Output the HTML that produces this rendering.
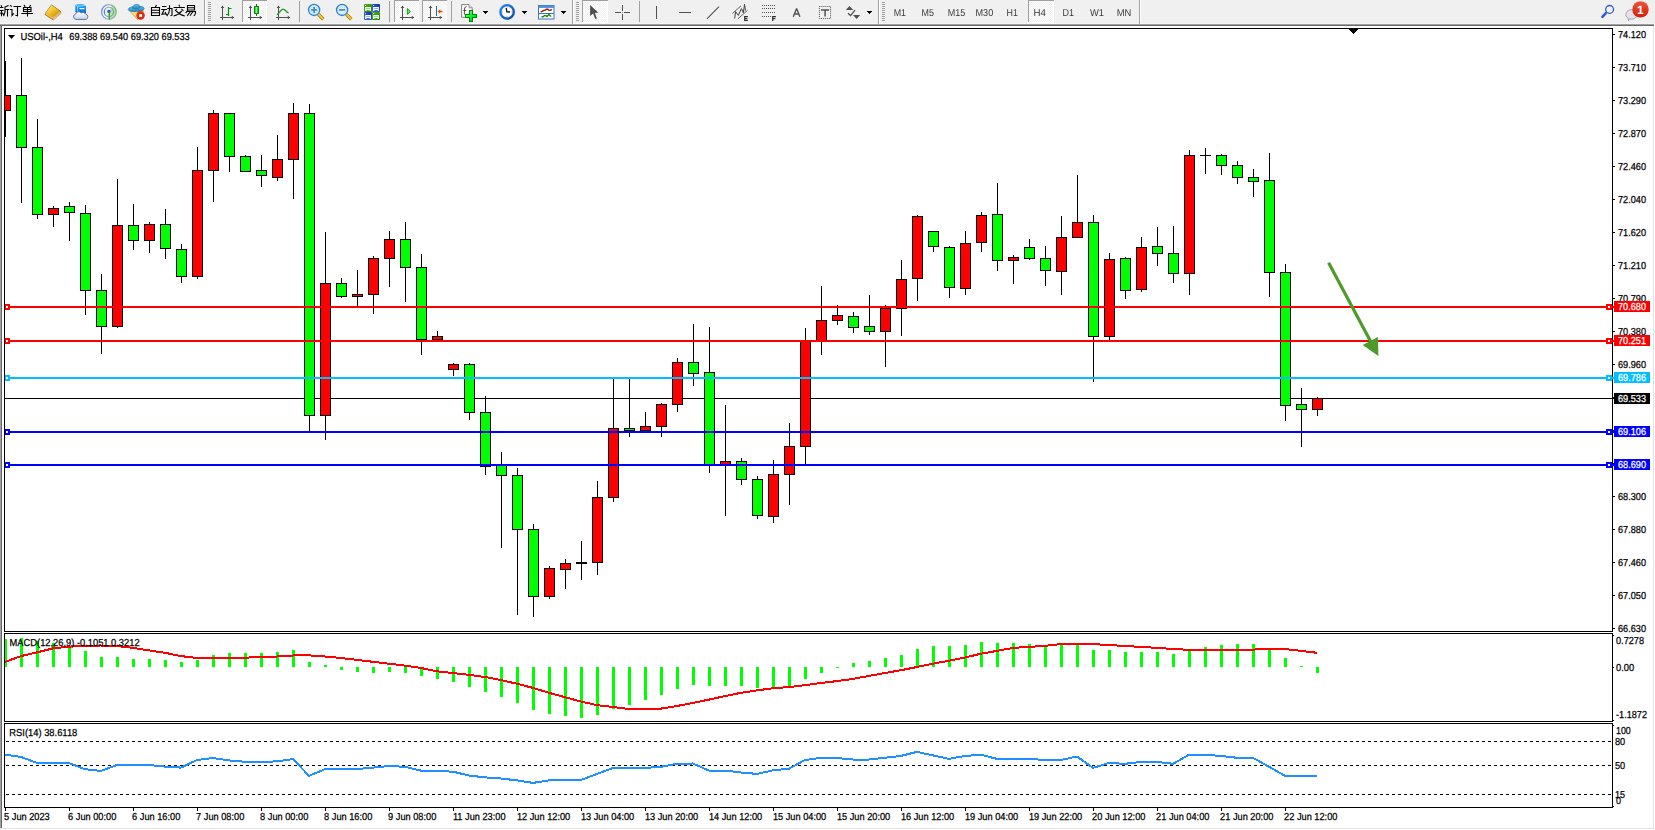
<!DOCTYPE html>
<html><head><meta charset="utf-8"><title>USOil H4</title>
<style>html,body{margin:0;padding:0;background:#fff;overflow:hidden}body{width:1655px;height:830px;font-family:"Liberation Sans",sans-serif}svg text{font-family:"Liberation Sans",sans-serif}</style>
</head><body>
<svg width="1655" height="830" viewBox="0 0 1655 830" font-family="Liberation Sans, sans-serif" text-rendering="geometricPrecision" style="display:block"><rect x="0" y="0" width="1655" height="830" fill="#fff"/>
<rect x="0" y="0" width="1655" height="24" fill="#f0f0f0"/>
<rect x="0" y="23" width="1654" height="1" fill="#f6f6f6"/>
<rect x="0" y="24" width="1654" height="1" fill="#a0a0a0"/>
<rect x="0" y="25" width="1654" height="1" fill="#696969"/>
<rect x="1653" y="26" width="1" height="803" fill="#e3e3e3"/>
<rect x="0" y="828" width="1654" height="1" fill="#e3e3e3"/>
<rect x="0" y="26" width="1" height="802" fill="#a0a0a0"/>
<rect x="1" y="26" width="1" height="802" fill="#696969"/>
<rect x="4" y="28" width="1" height="604" fill="#000"/>
<rect x="4" y="633" width="1" height="89" fill="#000"/>
<rect x="4" y="723" width="1" height="85" fill="#000"/>
<rect x="1612" y="28" width="1" height="604" fill="#000"/>
<rect x="1612" y="633" width="1" height="89" fill="#000"/>
<rect x="1612" y="723" width="1" height="85" fill="#000"/>
<rect x="4" y="28" width="1609" height="1" fill="#000"/>
<rect x="4" y="631" width="1609" height="1" fill="#000"/>
<rect x="4" y="633" width="1609" height="1" fill="#000"/>
<rect x="4" y="721" width="1609" height="1" fill="#000"/>
<rect x="4" y="723" width="1609" height="1" fill="#000"/>
<rect x="4" y="807" width="1609" height="1" fill="#000"/>
<rect x="5" y="398" width="1609" height="1" fill="#000"/>
<g shape-rendering="crispEdges">
<rect x="5" y="61" width="1" height="76" fill="#000"/>
<rect x="0" y="95" width="11" height="16" fill="#000"/>
<rect x="1" y="96" width="9" height="14" fill="#ff0000"/>
<rect x="21" y="58" width="1" height="145" fill="#000"/>
<rect x="16" y="95" width="11" height="53" fill="#000"/>
<rect x="17" y="96" width="9" height="51" fill="#00ff00"/>
<rect x="37" y="119" width="1" height="100" fill="#000"/>
<rect x="32" y="147" width="11" height="68" fill="#000"/>
<rect x="33" y="148" width="9" height="66" fill="#00ff00"/>
<rect x="53" y="206" width="1" height="21" fill="#000"/>
<rect x="48" y="208" width="11" height="7" fill="#000"/>
<rect x="49" y="209" width="9" height="5" fill="#ff0000"/>
<rect x="69" y="202" width="1" height="39" fill="#000"/>
<rect x="64" y="206" width="11" height="7" fill="#000"/>
<rect x="65" y="207" width="9" height="5" fill="#00ff00"/>
<rect x="85" y="205" width="1" height="110" fill="#000"/>
<rect x="80" y="213" width="11" height="78" fill="#000"/>
<rect x="81" y="214" width="9" height="76" fill="#00ff00"/>
<rect x="101" y="274" width="1" height="80" fill="#000"/>
<rect x="96" y="290" width="11" height="37" fill="#000"/>
<rect x="97" y="291" width="9" height="35" fill="#00ff00"/>
<rect x="117" y="179" width="1" height="149" fill="#000"/>
<rect x="112" y="225" width="11" height="102" fill="#000"/>
<rect x="113" y="226" width="9" height="100" fill="#ff0000"/>
<rect x="133" y="204" width="1" height="46" fill="#000"/>
<rect x="128" y="225" width="11" height="16" fill="#000"/>
<rect x="129" y="226" width="9" height="14" fill="#00ff00"/>
<rect x="149" y="222" width="1" height="31" fill="#000"/>
<rect x="144" y="224" width="11" height="17" fill="#000"/>
<rect x="145" y="225" width="9" height="15" fill="#ff0000"/>
<rect x="165" y="209" width="1" height="50" fill="#000"/>
<rect x="160" y="224" width="11" height="25" fill="#000"/>
<rect x="161" y="225" width="9" height="23" fill="#00ff00"/>
<rect x="181" y="244" width="1" height="39" fill="#000"/>
<rect x="176" y="249" width="11" height="28" fill="#000"/>
<rect x="177" y="250" width="9" height="26" fill="#00ff00"/>
<rect x="197" y="147" width="1" height="132" fill="#000"/>
<rect x="192" y="170" width="11" height="107" fill="#000"/>
<rect x="193" y="171" width="9" height="105" fill="#ff0000"/>
<rect x="213" y="110" width="1" height="92" fill="#000"/>
<rect x="208" y="113" width="11" height="58" fill="#000"/>
<rect x="209" y="114" width="9" height="56" fill="#ff0000"/>
<rect x="229" y="113" width="1" height="59" fill="#000"/>
<rect x="224" y="113" width="11" height="44" fill="#000"/>
<rect x="225" y="114" width="9" height="42" fill="#00ff00"/>
<rect x="245" y="155" width="1" height="17" fill="#000"/>
<rect x="240" y="156" width="11" height="16" fill="#000"/>
<rect x="241" y="157" width="9" height="14" fill="#00ff00"/>
<rect x="261" y="155" width="1" height="32" fill="#000"/>
<rect x="256" y="170" width="11" height="6" fill="#000"/>
<rect x="257" y="171" width="9" height="4" fill="#00ff00"/>
<rect x="277" y="135" width="1" height="46" fill="#000"/>
<rect x="272" y="159" width="11" height="19" fill="#000"/>
<rect x="273" y="160" width="9" height="17" fill="#ff0000"/>
<rect x="293" y="103" width="1" height="96" fill="#000"/>
<rect x="288" y="113" width="11" height="47" fill="#000"/>
<rect x="289" y="114" width="9" height="45" fill="#ff0000"/>
<rect x="309" y="104" width="1" height="327" fill="#000"/>
<rect x="304" y="113" width="11" height="303" fill="#000"/>
<rect x="305" y="114" width="9" height="301" fill="#00ff00"/>
<rect x="325" y="232" width="1" height="208" fill="#000"/>
<rect x="320" y="283" width="11" height="133" fill="#000"/>
<rect x="321" y="284" width="9" height="131" fill="#ff0000"/>
<rect x="341" y="278" width="1" height="20" fill="#000"/>
<rect x="336" y="283" width="11" height="14" fill="#000"/>
<rect x="337" y="284" width="9" height="12" fill="#00ff00"/>
<rect x="357" y="270" width="1" height="36" fill="#000"/>
<rect x="352" y="294" width="11" height="3" fill="#000"/>
<rect x="353" y="295" width="9" height="1" fill="#ff0000"/>
<rect x="373" y="256" width="1" height="58" fill="#000"/>
<rect x="368" y="258" width="11" height="37" fill="#000"/>
<rect x="369" y="259" width="9" height="35" fill="#ff0000"/>
<rect x="389" y="231" width="1" height="56" fill="#000"/>
<rect x="384" y="239" width="11" height="20" fill="#000"/>
<rect x="385" y="240" width="9" height="18" fill="#ff0000"/>
<rect x="405" y="222" width="1" height="80" fill="#000"/>
<rect x="400" y="239" width="11" height="29" fill="#000"/>
<rect x="401" y="240" width="9" height="27" fill="#00ff00"/>
<rect x="421" y="254" width="1" height="101" fill="#000"/>
<rect x="416" y="267" width="11" height="73" fill="#000"/>
<rect x="417" y="268" width="9" height="71" fill="#00ff00"/>
<rect x="437" y="331" width="1" height="9" fill="#000"/>
<rect x="432" y="336" width="11" height="4" fill="#000"/>
<rect x="433" y="337" width="9" height="2" fill="#ff0000"/>
<rect x="453" y="363" width="1" height="13" fill="#000"/>
<rect x="448" y="364" width="11" height="6" fill="#000"/>
<rect x="449" y="365" width="9" height="4" fill="#ff0000"/>
<rect x="469" y="363" width="1" height="57" fill="#000"/>
<rect x="464" y="364" width="11" height="49" fill="#000"/>
<rect x="465" y="365" width="9" height="47" fill="#00ff00"/>
<rect x="485" y="396" width="1" height="79" fill="#000"/>
<rect x="480" y="412" width="11" height="55" fill="#000"/>
<rect x="481" y="413" width="9" height="53" fill="#00ff00"/>
<rect x="501" y="452" width="1" height="96" fill="#000"/>
<rect x="496" y="465" width="11" height="11" fill="#000"/>
<rect x="497" y="466" width="9" height="9" fill="#00ff00"/>
<rect x="517" y="468" width="1" height="147" fill="#000"/>
<rect x="512" y="475" width="11" height="55" fill="#000"/>
<rect x="513" y="476" width="9" height="53" fill="#00ff00"/>
<rect x="533" y="524" width="1" height="93" fill="#000"/>
<rect x="528" y="529" width="11" height="68" fill="#000"/>
<rect x="529" y="530" width="9" height="66" fill="#00ff00"/>
<rect x="549" y="566" width="1" height="33" fill="#000"/>
<rect x="544" y="568" width="11" height="29" fill="#000"/>
<rect x="545" y="569" width="9" height="27" fill="#ff0000"/>
<rect x="565" y="559" width="1" height="30" fill="#000"/>
<rect x="560" y="563" width="11" height="7" fill="#000"/>
<rect x="561" y="564" width="9" height="5" fill="#ff0000"/>
<rect x="581" y="541" width="1" height="39" fill="#000"/>
<rect x="576" y="562" width="11" height="2" fill="#000"/>
<rect x="597" y="481" width="1" height="94" fill="#000"/>
<rect x="592" y="497" width="11" height="66" fill="#000"/>
<rect x="593" y="498" width="9" height="64" fill="#ff0000"/>
<rect x="613" y="379" width="1" height="123" fill="#000"/>
<rect x="608" y="428" width="11" height="70" fill="#000"/>
<rect x="609" y="429" width="9" height="68" fill="#ff0000"/>
<rect x="629" y="379" width="1" height="58" fill="#000"/>
<rect x="624" y="428" width="11" height="3" fill="#000"/>
<rect x="625" y="429" width="9" height="1" fill="#00ff00"/>
<rect x="645" y="412" width="1" height="19" fill="#000"/>
<rect x="640" y="426" width="11" height="5" fill="#000"/>
<rect x="641" y="427" width="9" height="3" fill="#ff0000"/>
<rect x="661" y="403" width="1" height="34" fill="#000"/>
<rect x="656" y="404" width="11" height="23" fill="#000"/>
<rect x="657" y="405" width="9" height="21" fill="#ff0000"/>
<rect x="677" y="358" width="1" height="54" fill="#000"/>
<rect x="672" y="362" width="11" height="43" fill="#000"/>
<rect x="673" y="363" width="9" height="41" fill="#ff0000"/>
<rect x="693" y="324" width="1" height="62" fill="#000"/>
<rect x="688" y="362" width="11" height="12" fill="#000"/>
<rect x="689" y="363" width="9" height="10" fill="#00ff00"/>
<rect x="709" y="327" width="1" height="146" fill="#000"/>
<rect x="704" y="372" width="11" height="93" fill="#000"/>
<rect x="705" y="373" width="9" height="91" fill="#00ff00"/>
<rect x="725" y="405" width="1" height="111" fill="#000"/>
<rect x="720" y="461" width="11" height="4" fill="#000"/>
<rect x="721" y="462" width="9" height="2" fill="#ff0000"/>
<rect x="741" y="458" width="1" height="27" fill="#000"/>
<rect x="736" y="461" width="11" height="19" fill="#000"/>
<rect x="737" y="462" width="9" height="17" fill="#00ff00"/>
<rect x="757" y="476" width="1" height="43" fill="#000"/>
<rect x="752" y="479" width="11" height="37" fill="#000"/>
<rect x="753" y="480" width="9" height="35" fill="#00ff00"/>
<rect x="773" y="460" width="1" height="63" fill="#000"/>
<rect x="768" y="474" width="11" height="43" fill="#000"/>
<rect x="769" y="475" width="9" height="41" fill="#ff0000"/>
<rect x="789" y="423" width="1" height="82" fill="#000"/>
<rect x="784" y="446" width="11" height="29" fill="#000"/>
<rect x="785" y="447" width="9" height="27" fill="#ff0000"/>
<rect x="805" y="328" width="1" height="137" fill="#000"/>
<rect x="800" y="340" width="11" height="107" fill="#000"/>
<rect x="801" y="341" width="9" height="105" fill="#ff0000"/>
<rect x="821" y="286" width="1" height="69" fill="#000"/>
<rect x="816" y="320" width="11" height="21" fill="#000"/>
<rect x="817" y="321" width="9" height="19" fill="#ff0000"/>
<rect x="837" y="305" width="1" height="20" fill="#000"/>
<rect x="832" y="315" width="11" height="6" fill="#000"/>
<rect x="833" y="316" width="9" height="4" fill="#ff0000"/>
<rect x="853" y="312" width="1" height="21" fill="#000"/>
<rect x="848" y="316" width="11" height="12" fill="#000"/>
<rect x="849" y="317" width="9" height="10" fill="#00ff00"/>
<rect x="869" y="295" width="1" height="40" fill="#000"/>
<rect x="864" y="326" width="11" height="6" fill="#000"/>
<rect x="865" y="327" width="9" height="4" fill="#00ff00"/>
<rect x="885" y="305" width="1" height="62" fill="#000"/>
<rect x="880" y="308" width="11" height="24" fill="#000"/>
<rect x="881" y="309" width="9" height="22" fill="#ff0000"/>
<rect x="901" y="260" width="1" height="76" fill="#000"/>
<rect x="896" y="279" width="11" height="30" fill="#000"/>
<rect x="897" y="280" width="9" height="28" fill="#ff0000"/>
<rect x="917" y="215" width="1" height="86" fill="#000"/>
<rect x="912" y="216" width="11" height="63" fill="#000"/>
<rect x="913" y="217" width="9" height="61" fill="#ff0000"/>
<rect x="933" y="231" width="1" height="21" fill="#000"/>
<rect x="928" y="231" width="11" height="16" fill="#000"/>
<rect x="929" y="232" width="9" height="14" fill="#00ff00"/>
<rect x="949" y="246" width="1" height="52" fill="#000"/>
<rect x="944" y="247" width="11" height="41" fill="#000"/>
<rect x="945" y="248" width="9" height="39" fill="#00ff00"/>
<rect x="965" y="231" width="1" height="64" fill="#000"/>
<rect x="960" y="243" width="11" height="46" fill="#000"/>
<rect x="961" y="244" width="9" height="44" fill="#ff0000"/>
<rect x="981" y="212" width="1" height="40" fill="#000"/>
<rect x="976" y="215" width="11" height="28" fill="#000"/>
<rect x="977" y="216" width="9" height="26" fill="#ff0000"/>
<rect x="997" y="183" width="1" height="88" fill="#000"/>
<rect x="992" y="214" width="11" height="47" fill="#000"/>
<rect x="993" y="215" width="9" height="45" fill="#00ff00"/>
<rect x="1013" y="255" width="1" height="29" fill="#000"/>
<rect x="1008" y="257" width="11" height="4" fill="#000"/>
<rect x="1009" y="258" width="9" height="2" fill="#ff0000"/>
<rect x="1029" y="239" width="1" height="21" fill="#000"/>
<rect x="1024" y="247" width="11" height="12" fill="#000"/>
<rect x="1025" y="248" width="9" height="10" fill="#00ff00"/>
<rect x="1045" y="246" width="1" height="40" fill="#000"/>
<rect x="1040" y="258" width="11" height="13" fill="#000"/>
<rect x="1041" y="259" width="9" height="11" fill="#00ff00"/>
<rect x="1061" y="216" width="1" height="79" fill="#000"/>
<rect x="1056" y="237" width="11" height="35" fill="#000"/>
<rect x="1057" y="238" width="9" height="33" fill="#ff0000"/>
<rect x="1077" y="175" width="1" height="63" fill="#000"/>
<rect x="1072" y="222" width="11" height="16" fill="#000"/>
<rect x="1073" y="223" width="9" height="14" fill="#ff0000"/>
<rect x="1093" y="215" width="1" height="167" fill="#000"/>
<rect x="1088" y="222" width="11" height="115" fill="#000"/>
<rect x="1089" y="223" width="9" height="113" fill="#00ff00"/>
<rect x="1109" y="253" width="1" height="87" fill="#000"/>
<rect x="1104" y="259" width="11" height="78" fill="#000"/>
<rect x="1105" y="260" width="9" height="76" fill="#ff0000"/>
<rect x="1125" y="257" width="1" height="42" fill="#000"/>
<rect x="1120" y="258" width="11" height="33" fill="#000"/>
<rect x="1121" y="259" width="9" height="31" fill="#00ff00"/>
<rect x="1141" y="237" width="1" height="55" fill="#000"/>
<rect x="1136" y="247" width="11" height="43" fill="#000"/>
<rect x="1137" y="248" width="9" height="41" fill="#ff0000"/>
<rect x="1157" y="227" width="1" height="39" fill="#000"/>
<rect x="1152" y="246" width="11" height="8" fill="#000"/>
<rect x="1153" y="247" width="9" height="6" fill="#00ff00"/>
<rect x="1173" y="226" width="1" height="57" fill="#000"/>
<rect x="1168" y="253" width="11" height="21" fill="#000"/>
<rect x="1169" y="254" width="9" height="19" fill="#00ff00"/>
<rect x="1189" y="150" width="1" height="145" fill="#000"/>
<rect x="1184" y="155" width="11" height="119" fill="#000"/>
<rect x="1185" y="156" width="9" height="117" fill="#ff0000"/>
<rect x="1205" y="148" width="1" height="26" fill="#000"/>
<rect x="1200" y="155" width="11" height="1" fill="#000"/>
<rect x="1221" y="154" width="1" height="21" fill="#000"/>
<rect x="1216" y="155" width="11" height="11" fill="#000"/>
<rect x="1217" y="156" width="9" height="9" fill="#00ff00"/>
<rect x="1237" y="161" width="1" height="23" fill="#000"/>
<rect x="1232" y="165" width="11" height="13" fill="#000"/>
<rect x="1233" y="166" width="9" height="11" fill="#00ff00"/>
<rect x="1253" y="169" width="1" height="28" fill="#000"/>
<rect x="1248" y="177" width="11" height="5" fill="#000"/>
<rect x="1249" y="178" width="9" height="3" fill="#00ff00"/>
<rect x="1269" y="153" width="1" height="144" fill="#000"/>
<rect x="1264" y="180" width="11" height="93" fill="#000"/>
<rect x="1265" y="181" width="9" height="91" fill="#00ff00"/>
<rect x="1285" y="264" width="1" height="157" fill="#000"/>
<rect x="1280" y="272" width="11" height="134" fill="#000"/>
<rect x="1281" y="273" width="9" height="132" fill="#00ff00"/>
<rect x="1301" y="388" width="1" height="59" fill="#000"/>
<rect x="1296" y="404" width="11" height="6" fill="#000"/>
<rect x="1297" y="405" width="9" height="4" fill="#00ff00"/>
<rect x="1317" y="397" width="1" height="19" fill="#000"/>
<rect x="1312" y="398" width="11" height="12" fill="#000"/>
<rect x="1313" y="399" width="9" height="10" fill="#ff0000"/>
</g>
<rect x="0" y="26" width="1" height="802" fill="#a0a0a0"/>
<rect x="1" y="26" width="1" height="802" fill="#696969"/>
<rect x="2" y="26" width="2" height="802" fill="#fff"/>
<rect x="4" y="28" width="1" height="604" fill="#000"/>
<rect x="4" y="633" width="1" height="89" fill="#000"/>
<rect x="4" y="723" width="1" height="85" fill="#000"/>
<rect x="1613" y="34" width="2" height="1" fill="#000"/>
<text x="1618" y="38" font-size="10.1" fill="#000" stroke="#000" stroke-width="0.25" textLength="28" lengthAdjust="spacingAndGlyphs">74.120</text>
<rect x="1613" y="67" width="2" height="1" fill="#000"/>
<text x="1618" y="71" font-size="10.1" fill="#000" stroke="#000" stroke-width="0.25" textLength="28" lengthAdjust="spacingAndGlyphs">73.710</text>
<rect x="1613" y="100" width="2" height="1" fill="#000"/>
<text x="1618" y="104" font-size="10.1" fill="#000" stroke="#000" stroke-width="0.25" textLength="28" lengthAdjust="spacingAndGlyphs">73.290</text>
<rect x="1613" y="133" width="2" height="1" fill="#000"/>
<text x="1618" y="137" font-size="10.1" fill="#000" stroke="#000" stroke-width="0.25" textLength="28" lengthAdjust="spacingAndGlyphs">72.870</text>
<rect x="1613" y="166" width="2" height="1" fill="#000"/>
<text x="1618" y="170" font-size="10.1" fill="#000" stroke="#000" stroke-width="0.25" textLength="28" lengthAdjust="spacingAndGlyphs">72.460</text>
<rect x="1613" y="199" width="2" height="1" fill="#000"/>
<text x="1618" y="203" font-size="10.1" fill="#000" stroke="#000" stroke-width="0.25" textLength="28" lengthAdjust="spacingAndGlyphs">72.040</text>
<rect x="1613" y="232" width="2" height="1" fill="#000"/>
<text x="1618" y="236" font-size="10.1" fill="#000" stroke="#000" stroke-width="0.25" textLength="28" lengthAdjust="spacingAndGlyphs">71.620</text>
<rect x="1613" y="265" width="2" height="1" fill="#000"/>
<text x="1618" y="269" font-size="10.1" fill="#000" stroke="#000" stroke-width="0.25" textLength="28" lengthAdjust="spacingAndGlyphs">71.210</text>
<rect x="1613" y="298" width="2" height="1" fill="#000"/>
<text x="1618" y="302" font-size="10.1" fill="#000" stroke="#000" stroke-width="0.25" textLength="28" lengthAdjust="spacingAndGlyphs">70.790</text>
<rect x="1613" y="331" width="2" height="1" fill="#000"/>
<text x="1618" y="335" font-size="10.1" fill="#000" stroke="#000" stroke-width="0.25" textLength="28" lengthAdjust="spacingAndGlyphs">70.380</text>
<rect x="1613" y="364" width="2" height="1" fill="#000"/>
<text x="1618" y="368" font-size="10.1" fill="#000" stroke="#000" stroke-width="0.25" textLength="28" lengthAdjust="spacingAndGlyphs">69.960</text>
<rect x="1613" y="397" width="2" height="1" fill="#000"/>
<text x="1618" y="401" font-size="10.1" fill="#000" stroke="#000" stroke-width="0.25" textLength="28" lengthAdjust="spacingAndGlyphs">69.540</text>
<rect x="1613" y="430" width="2" height="1" fill="#000"/>
<text x="1618" y="434" font-size="10.1" fill="#000" stroke="#000" stroke-width="0.25" textLength="28" lengthAdjust="spacingAndGlyphs">69.130</text>
<rect x="1613" y="463" width="2" height="1" fill="#000"/>
<text x="1618" y="467" font-size="10.1" fill="#000" stroke="#000" stroke-width="0.25" textLength="28" lengthAdjust="spacingAndGlyphs">68.710</text>
<rect x="1613" y="496" width="2" height="1" fill="#000"/>
<text x="1618" y="500" font-size="10.1" fill="#000" stroke="#000" stroke-width="0.25" textLength="28" lengthAdjust="spacingAndGlyphs">68.300</text>
<rect x="1613" y="529" width="2" height="1" fill="#000"/>
<text x="1618" y="533" font-size="10.1" fill="#000" stroke="#000" stroke-width="0.25" textLength="28" lengthAdjust="spacingAndGlyphs">67.880</text>
<rect x="1613" y="562" width="2" height="1" fill="#000"/>
<text x="1618" y="566" font-size="10.1" fill="#000" stroke="#000" stroke-width="0.25" textLength="28" lengthAdjust="spacingAndGlyphs">67.460</text>
<rect x="1613" y="595" width="2" height="1" fill="#000"/>
<text x="1618" y="599" font-size="10.1" fill="#000" stroke="#000" stroke-width="0.25" textLength="28" lengthAdjust="spacingAndGlyphs">67.050</text>
<rect x="1613" y="628" width="2" height="1" fill="#000"/>
<text x="1618" y="632" font-size="10.1" fill="#000" stroke="#000" stroke-width="0.25" textLength="28" lengthAdjust="spacingAndGlyphs">66.630</text>
<rect x="4" y="306" width="1610" height="2" fill="#ff0000"/>
<rect x="4" y="304" width="6" height="6" fill="#ff0000"/>
<rect x="6" y="306" width="2" height="2" fill="#fff"/>
<rect x="1606" y="304" width="6" height="6" fill="#ff0000"/>
<rect x="1608" y="306" width="2" height="2" fill="#fff"/>
<rect x="1614" y="301" width="36" height="11" fill="#ff0000"/>
<text x="1618" y="310" font-size="10.1" fill="#fff" stroke="#fff" stroke-width="0.25" textLength="28" lengthAdjust="spacingAndGlyphs">70.680</text>
<rect x="4" y="340" width="1610" height="2" fill="#ff0000"/>
<rect x="4" y="338" width="6" height="6" fill="#ff0000"/>
<rect x="6" y="340" width="2" height="2" fill="#fff"/>
<rect x="1606" y="338" width="6" height="6" fill="#ff0000"/>
<rect x="1608" y="340" width="2" height="2" fill="#fff"/>
<rect x="1614" y="335" width="36" height="11" fill="#ff0000"/>
<text x="1618" y="344" font-size="10.1" fill="#fff" stroke="#fff" stroke-width="0.25" textLength="28" lengthAdjust="spacingAndGlyphs">70.251</text>
<rect x="4" y="377" width="1610" height="2" fill="#00bfff"/>
<rect x="4" y="375" width="6" height="6" fill="#00bfff"/>
<rect x="6" y="377" width="2" height="2" fill="#fff"/>
<rect x="1606" y="375" width="6" height="6" fill="#00bfff"/>
<rect x="1608" y="377" width="2" height="2" fill="#fff"/>
<rect x="1614" y="372" width="36" height="11" fill="#00bfff"/>
<text x="1618" y="381" font-size="10.1" fill="#fff" stroke="#fff" stroke-width="0.25" textLength="28" lengthAdjust="spacingAndGlyphs">69.786</text>
<rect x="4" y="431" width="1610" height="2" fill="#0000ff"/>
<rect x="4" y="429" width="6" height="6" fill="#0000ff"/>
<rect x="6" y="431" width="2" height="2" fill="#fff"/>
<rect x="1606" y="429" width="6" height="6" fill="#0000ff"/>
<rect x="1608" y="431" width="2" height="2" fill="#fff"/>
<rect x="1614" y="426" width="36" height="11" fill="#0000ff"/>
<text x="1618" y="435" font-size="10.1" fill="#fff" stroke="#fff" stroke-width="0.25" textLength="28" lengthAdjust="spacingAndGlyphs">69.106</text>
<rect x="4" y="464" width="1610" height="2" fill="#0000ff"/>
<rect x="4" y="462" width="6" height="6" fill="#0000ff"/>
<rect x="6" y="464" width="2" height="2" fill="#fff"/>
<rect x="1606" y="462" width="6" height="6" fill="#0000ff"/>
<rect x="1608" y="464" width="2" height="2" fill="#fff"/>
<rect x="1614" y="459" width="36" height="11" fill="#0000ff"/>
<text x="1618" y="468" font-size="10.1" fill="#fff" stroke="#fff" stroke-width="0.25" textLength="28" lengthAdjust="spacingAndGlyphs">68.690</text>
<rect x="1614" y="393" width="36" height="11" fill="#000"/>
<text x="1618" y="402" font-size="10.1" fill="#fff" stroke="#fff" stroke-width="0.25" textLength="28" lengthAdjust="spacingAndGlyphs">69.533</text>
<line x1="1328.6" y1="262.8" x2="1372" y2="344" stroke="#4e9a2a" stroke-width="3.2"/>
<polygon points="1378.4,356.1 1362.7,344.9 1377.9,337" fill="#4e9a2a"/>
<polygon points="8,35 15,35 11.5,39" fill="#000"/>
<text x="20.5" y="39.5" font-size="10.1" fill="#000" stroke="#000" stroke-width="0.25" textLength="42.3" lengthAdjust="spacingAndGlyphs">USOil-,H4</text>
<text x="69.3" y="39.5" font-size="10.1" fill="#000" stroke="#000" stroke-width="0.25" textLength="120.4" lengthAdjust="spacingAndGlyphs">69.388 69.540 69.320 69.533</text>
<polygon points="1348.5,29 1358.5,29 1353.5,34" fill="#000" shape-rendering="crispEdges"/>
<g shape-rendering="crispEdges">
<rect x="4" y="639" width="3" height="28" fill="#00ff00"/>
<rect x="20" y="638" width="3" height="29" fill="#00ff00"/>
<rect x="36" y="641" width="3" height="26" fill="#00ff00"/>
<rect x="52" y="643" width="3" height="24" fill="#00ff00"/>
<rect x="68" y="646" width="3" height="21" fill="#00ff00"/>
<rect x="84" y="651" width="3" height="16" fill="#00ff00"/>
<rect x="100" y="657" width="3" height="10" fill="#00ff00"/>
<rect x="116" y="657" width="3" height="10" fill="#00ff00"/>
<rect x="132" y="659" width="3" height="8" fill="#00ff00"/>
<rect x="148" y="659" width="3" height="8" fill="#00ff00"/>
<rect x="164" y="660" width="3" height="7" fill="#00ff00"/>
<rect x="180" y="662" width="3" height="5" fill="#00ff00"/>
<rect x="196" y="660" width="3" height="7" fill="#00ff00"/>
<rect x="212" y="655" width="3" height="12" fill="#00ff00"/>
<rect x="228" y="653" width="3" height="14" fill="#00ff00"/>
<rect x="244" y="653" width="3" height="14" fill="#00ff00"/>
<rect x="260" y="653" width="3" height="14" fill="#00ff00"/>
<rect x="276" y="652" width="3" height="15" fill="#00ff00"/>
<rect x="292" y="650" width="3" height="17" fill="#00ff00"/>
<rect x="308" y="662" width="3" height="5" fill="#00ff00"/>
<rect x="324" y="665" width="3" height="2" fill="#00ff00"/>
<rect x="340" y="667" width="3" height="3" fill="#00ff00"/>
<rect x="356" y="667" width="3" height="5" fill="#00ff00"/>
<rect x="372" y="667" width="3" height="6" fill="#00ff00"/>
<rect x="388" y="667" width="3" height="5" fill="#00ff00"/>
<rect x="404" y="667" width="3" height="6" fill="#00ff00"/>
<rect x="420" y="667" width="3" height="9" fill="#00ff00"/>
<rect x="436" y="667" width="3" height="12" fill="#00ff00"/>
<rect x="452" y="667" width="3" height="15" fill="#00ff00"/>
<rect x="468" y="667" width="3" height="20" fill="#00ff00"/>
<rect x="484" y="667" width="3" height="25" fill="#00ff00"/>
<rect x="500" y="667" width="3" height="30" fill="#00ff00"/>
<rect x="516" y="667" width="3" height="36" fill="#00ff00"/>
<rect x="532" y="667" width="3" height="43" fill="#00ff00"/>
<rect x="548" y="667" width="3" height="47" fill="#00ff00"/>
<rect x="564" y="667" width="3" height="49" fill="#00ff00"/>
<rect x="580" y="667" width="3" height="51" fill="#00ff00"/>
<rect x="596" y="667" width="3" height="48" fill="#00ff00"/>
<rect x="612" y="667" width="3" height="42" fill="#00ff00"/>
<rect x="628" y="667" width="3" height="38" fill="#00ff00"/>
<rect x="644" y="667" width="3" height="33" fill="#00ff00"/>
<rect x="660" y="667" width="3" height="28" fill="#00ff00"/>
<rect x="676" y="667" width="3" height="22" fill="#00ff00"/>
<rect x="692" y="667" width="3" height="18" fill="#00ff00"/>
<rect x="708" y="667" width="3" height="19" fill="#00ff00"/>
<rect x="724" y="667" width="3" height="19" fill="#00ff00"/>
<rect x="740" y="667" width="3" height="19" fill="#00ff00"/>
<rect x="756" y="667" width="3" height="21" fill="#00ff00"/>
<rect x="772" y="667" width="3" height="21" fill="#00ff00"/>
<rect x="788" y="667" width="3" height="19" fill="#00ff00"/>
<rect x="804" y="667" width="3" height="12" fill="#00ff00"/>
<rect x="820" y="667" width="3" height="6" fill="#00ff00"/>
<rect x="836" y="667" width="3" height="1" fill="#00ff00"/>
<rect x="852" y="663" width="3" height="4" fill="#00ff00"/>
<rect x="868" y="661" width="3" height="6" fill="#00ff00"/>
<rect x="884" y="658" width="3" height="9" fill="#00ff00"/>
<rect x="900" y="655" width="3" height="12" fill="#00ff00"/>
<rect x="916" y="649" width="3" height="18" fill="#00ff00"/>
<rect x="932" y="646" width="3" height="21" fill="#00ff00"/>
<rect x="948" y="646" width="3" height="21" fill="#00ff00"/>
<rect x="964" y="645" width="3" height="22" fill="#00ff00"/>
<rect x="980" y="642" width="3" height="25" fill="#00ff00"/>
<rect x="996" y="643" width="3" height="24" fill="#00ff00"/>
<rect x="1012" y="643" width="3" height="24" fill="#00ff00"/>
<rect x="1028" y="644" width="3" height="23" fill="#00ff00"/>
<rect x="1044" y="645" width="3" height="22" fill="#00ff00"/>
<rect x="1060" y="644" width="3" height="23" fill="#00ff00"/>
<rect x="1076" y="643" width="3" height="24" fill="#00ff00"/>
<rect x="1092" y="650" width="3" height="17" fill="#00ff00"/>
<rect x="1108" y="650" width="3" height="17" fill="#00ff00"/>
<rect x="1124" y="652" width="3" height="15" fill="#00ff00"/>
<rect x="1140" y="652" width="3" height="15" fill="#00ff00"/>
<rect x="1156" y="652" width="3" height="15" fill="#00ff00"/>
<rect x="1172" y="654" width="3" height="13" fill="#00ff00"/>
<rect x="1188" y="650" width="3" height="17" fill="#00ff00"/>
<rect x="1204" y="647" width="3" height="20" fill="#00ff00"/>
<rect x="1220" y="645" width="3" height="22" fill="#00ff00"/>
<rect x="1236" y="644" width="3" height="23" fill="#00ff00"/>
<rect x="1252" y="644" width="3" height="23" fill="#00ff00"/>
<rect x="1268" y="648" width="3" height="19" fill="#00ff00"/>
<rect x="1284" y="658" width="3" height="9" fill="#00ff00"/>
<rect x="1300" y="666" width="3" height="1" fill="#00ff00"/>
<rect x="1316" y="667" width="3" height="6" fill="#00ff00"/>
</g>
<polyline points="5,661.9 21,656.1 37,652.4 53,648.4 69,646.6 85,645.7 101,645.5 117,646 133,647.9 149,650.4 165,652.8 181,656.1 197,658 213,658 229,658 245,657.7 261,657 277,656.5 293,655.5 309,655.4 325,656.5 341,658 357,659.9 373,661.8 389,663.7 405,665.6 421,668 437,671.3 453,673 469,674.9 485,677 501,680 517,683.8 533,687.9 549,692.8 565,697.2 581,701.5 597,705.2 613,707 629,709 645,709 661,708.6 677,706 693,702.9 709,699.6 725,696.1 741,692.8 757,690.4 773,688.2 789,687.1 805,685.2 821,683 837,681.1 853,678.9 869,675.9 885,673.0 901,670.2 917,667 933,663.7 949,660.7 965,657.5 981,653.7 997,650.9 1013,647.9 1029,646.9 1045,645.8 1061,644.1 1077,643.6 1093,644.1 1109,645 1125,646 1141,646.9 1157,647.9 1173,649 1189,649.8 1205,649.8 1221,649.8 1237,649.8 1253,649.6 1269,649 1285,649 1301,650.9 1317,652.8" fill="none" stroke="#ff0000" stroke-width="2" shape-rendering="crispEdges"/>
<text x="9.6" y="646" font-size="10.1" fill="#000" stroke="#000" stroke-width="0.25" textLength="130" lengthAdjust="spacingAndGlyphs">MACD(12,26,9) -0.1051 0.3212</text>
<rect x="2" y="26" width="2" height="802" fill="#fff"/>
<rect x="4" y="28" width="1" height="604" fill="#000"/>
<rect x="4" y="633" width="1" height="89" fill="#000"/>
<rect x="4" y="723" width="1" height="85" fill="#000"/>
<text x="1616" y="644" font-size="10.1" fill="#000" stroke="#000" stroke-width="0.25" textLength="28" lengthAdjust="spacingAndGlyphs">0.7278</text>
<text x="1616" y="671" font-size="10.1" fill="#000" stroke="#000" stroke-width="0.25" textLength="18.2" lengthAdjust="spacingAndGlyphs">0.00</text>
<text x="1616" y="718" font-size="10.1" fill="#000" stroke="#000" stroke-width="0.25" textLength="31" lengthAdjust="spacingAndGlyphs">-1.1872</text>
<rect x="1613" y="635" width="1" height="1" fill="#000"/>
<rect x="1613" y="667" width="1" height="1" fill="#000"/>
<rect x="1613" y="720" width="1" height="1" fill="#000"/>
<rect x="1613" y="725" width="1" height="1" fill="#000"/>
<rect x="1613" y="806" width="1" height="1" fill="#000"/>
<line x1="6" y1="741.5" x2="1612" y2="741.5" stroke="#000" stroke-width="1" stroke-dasharray="3,3" shape-rendering="crispEdges"/>
<line x1="6" y1="765.5" x2="1612" y2="765.5" stroke="#000" stroke-width="1" stroke-dasharray="3,3" shape-rendering="crispEdges"/>
<line x1="6" y1="794.5" x2="1612" y2="794.5" stroke="#000" stroke-width="1" stroke-dasharray="3,3" shape-rendering="crispEdges"/>
<polyline points="5,754.6 21,756.9 37,763 53,763 69,763 85,769.2 101,771 117,765 133,765 149,765 165,766.6 181,767.6 197,760 213,758 229,760.4 245,761.8 261,761.8 277,761.4 293,759 309,775.8 325,769.2 341,769 357,769 373,767.6 389,766 405,766.8 421,770.6 437,770.9 453,771.7 469,775.5 485,777.4 501,778.5 517,780.4 533,782.9 549,780.4 565,779.9 581,779.9 597,773.9 613,767.9 629,767.9 645,767.9 661,766.8 677,763.8 693,763.5 709,770.6 725,770.6 741,772.5 757,773.9 773,770.3 789,768.7 805,760 821,757.8 837,758.1 853,759.5 869,759.5 885,757.8 901,755.9 917,751.9 933,755.4 949,758.9 965,755.9 981,754.8 997,758.9 1013,758.9 1029,758.9 1045,760 1061,760 1077,756.5 1093,767.9 1109,763 1125,763.8 1141,761.9 1157,761.9 1173,763.8 1189,754.8 1205,754.8 1221,755.9 1237,757.8 1253,757.8 1269,766.8 1285,775.8 1301,775.8 1317,775.8" fill="none" stroke="#1e90ff" stroke-width="2" shape-rendering="crispEdges"/>
<text x="9.3" y="736" font-size="10.1" fill="#000" stroke="#000" stroke-width="0.25" textLength="68" lengthAdjust="spacingAndGlyphs">RSI(14) 38.6118</text>
<text x="1616" y="734" font-size="10.1" fill="#000" stroke="#000" stroke-width="0.25" textLength="14.8" lengthAdjust="spacingAndGlyphs">100</text>
<text x="1615" y="745" font-size="10.1" fill="#000" stroke="#000" stroke-width="0.25" textLength="10.2" lengthAdjust="spacingAndGlyphs">80</text>
<text x="1615" y="769" font-size="10.1" fill="#000" stroke="#000" stroke-width="0.25" textLength="10.2" lengthAdjust="spacingAndGlyphs">50</text>
<text x="1615" y="798" font-size="10.1" fill="#000" stroke="#000" stroke-width="0.25" textLength="10" lengthAdjust="spacingAndGlyphs">15</text>
<text x="1616" y="804" font-size="10.1" fill="#000" stroke="#000" stroke-width="0.25" textLength="5" lengthAdjust="spacingAndGlyphs">0</text>
<rect x="5" y="808" width="1" height="3" fill="#000"/>
<text transform="translate(4.1,820) scale(0.913,1)" font-size="10.1" fill="#000" stroke="#000" stroke-width="0.25">5 Jun 2023</text>
<rect x="69" y="808" width="1" height="3" fill="#000"/>
<text transform="translate(68.1,820) scale(0.913,1)" font-size="10.1" fill="#000" stroke="#000" stroke-width="0.25">6 Jun 00:00</text>
<rect x="133" y="808" width="1" height="3" fill="#000"/>
<text transform="translate(132.1,820) scale(0.913,1)" font-size="10.1" fill="#000" stroke="#000" stroke-width="0.25">6 Jun 16:00</text>
<rect x="197" y="808" width="1" height="3" fill="#000"/>
<text transform="translate(196.1,820) scale(0.913,1)" font-size="10.1" fill="#000" stroke="#000" stroke-width="0.25">7 Jun 08:00</text>
<rect x="261" y="808" width="1" height="3" fill="#000"/>
<text transform="translate(260.1,820) scale(0.913,1)" font-size="10.1" fill="#000" stroke="#000" stroke-width="0.25">8 Jun 00:00</text>
<rect x="325" y="808" width="1" height="3" fill="#000"/>
<text transform="translate(324.1,820) scale(0.913,1)" font-size="10.1" fill="#000" stroke="#000" stroke-width="0.25">8 Jun 16:00</text>
<rect x="389" y="808" width="1" height="3" fill="#000"/>
<text transform="translate(388.1,820) scale(0.913,1)" font-size="10.1" fill="#000" stroke="#000" stroke-width="0.25">9 Jun 08:00</text>
<rect x="453" y="808" width="1" height="3" fill="#000"/>
<text transform="translate(452.90000000000003,820) scale(0.913,1)" font-size="10.1" fill="#000" stroke="#000" stroke-width="0.25">11 Jun 23:00</text>
<rect x="517" y="808" width="1" height="3" fill="#000"/>
<text transform="translate(516.9,820) scale(0.913,1)" font-size="10.1" fill="#000" stroke="#000" stroke-width="0.25">12 Jun 12:00</text>
<rect x="581" y="808" width="1" height="3" fill="#000"/>
<text transform="translate(580.9,820) scale(0.913,1)" font-size="10.1" fill="#000" stroke="#000" stroke-width="0.25">13 Jun 04:00</text>
<rect x="645" y="808" width="1" height="3" fill="#000"/>
<text transform="translate(644.9,820) scale(0.913,1)" font-size="10.1" fill="#000" stroke="#000" stroke-width="0.25">13 Jun 20:00</text>
<rect x="709" y="808" width="1" height="3" fill="#000"/>
<text transform="translate(708.9,820) scale(0.913,1)" font-size="10.1" fill="#000" stroke="#000" stroke-width="0.25">14 Jun 12:00</text>
<rect x="773" y="808" width="1" height="3" fill="#000"/>
<text transform="translate(772.9,820) scale(0.913,1)" font-size="10.1" fill="#000" stroke="#000" stroke-width="0.25">15 Jun 04:00</text>
<rect x="837" y="808" width="1" height="3" fill="#000"/>
<text transform="translate(836.9,820) scale(0.913,1)" font-size="10.1" fill="#000" stroke="#000" stroke-width="0.25">15 Jun 20:00</text>
<rect x="901" y="808" width="1" height="3" fill="#000"/>
<text transform="translate(900.9,820) scale(0.913,1)" font-size="10.1" fill="#000" stroke="#000" stroke-width="0.25">16 Jun 12:00</text>
<rect x="965" y="808" width="1" height="3" fill="#000"/>
<text transform="translate(964.9,820) scale(0.913,1)" font-size="10.1" fill="#000" stroke="#000" stroke-width="0.25">19 Jun 04:00</text>
<rect x="1029" y="808" width="1" height="3" fill="#000"/>
<text transform="translate(1028.8999999999999,820) scale(0.913,1)" font-size="10.1" fill="#000" stroke="#000" stroke-width="0.25">19 Jun 22:00</text>
<rect x="1093" y="808" width="1" height="3" fill="#000"/>
<text transform="translate(1092.1,820) scale(0.913,1)" font-size="10.1" fill="#000" stroke="#000" stroke-width="0.25">20 Jun 12:00</text>
<rect x="1157" y="808" width="1" height="3" fill="#000"/>
<text transform="translate(1156.1,820) scale(0.913,1)" font-size="10.1" fill="#000" stroke="#000" stroke-width="0.25">21 Jun 04:00</text>
<rect x="1221" y="808" width="1" height="3" fill="#000"/>
<text transform="translate(1220.1,820) scale(0.913,1)" font-size="10.1" fill="#000" stroke="#000" stroke-width="0.25">21 Jun 20:00</text>
<rect x="1285" y="808" width="1" height="3" fill="#000"/>
<text transform="translate(1284.1,820) scale(0.913,1)" font-size="10.1" fill="#000" stroke="#000" stroke-width="0.25">22 Jun 12:00</text>
<defs>
<pattern id="dith" width="2" height="2" patternUnits="userSpaceOnUse"><rect width="2" height="2" fill="#f0f0f0"/><rect width="1" height="1" fill="#fff"/><rect x="1" y="1" width="1" height="1" fill="#fff"/></pattern>
<linearGradient id="gold" x1="0" y1="0" x2="1" y2="1"><stop offset="0" stop-color="#fff0a0"/><stop offset="0.5" stop-color="#f0c020"/><stop offset="1" stop-color="#c08010"/></linearGradient>
<linearGradient id="blu" x1="0" y1="0" x2="0" y2="1"><stop offset="0" stop-color="#30b0ff"/><stop offset="1" stop-color="#0068d8"/></linearGradient>
<linearGradient id="cld" x1="0" y1="0" x2="0" y2="1"><stop offset="0" stop-color="#ffffff"/><stop offset="1" stop-color="#c8d4ec"/></linearGradient>
<linearGradient id="grn" x1="0" y1="0" x2="1" y2="0"><stop offset="0" stop-color="#20d020"/><stop offset="0.5" stop-color="#80ff80"/><stop offset="1" stop-color="#10b010"/></linearGradient>
<linearGradient id="plus" x1="0" y1="0" x2="1" y2="1"><stop offset="0" stop-color="#80ff90"/><stop offset="0.5" stop-color="#10f030"/><stop offset="1" stop-color="#00c010"/></linearGradient>
<linearGradient id="badge" x1="0" y1="0" x2="0" y2="1"><stop offset="0" stop-color="#ea5838"/><stop offset="1" stop-color="#d81c08"/></linearGradient>
<linearGradient id="hat" x1="0" y1="0" x2="0" y2="1"><stop offset="0" stop-color="#70c0f0"/><stop offset="1" stop-color="#2080c0"/></linearGradient>
<linearGradient id="sig" x1="0" y1="0" x2="1" y2="0"><stop offset="0" stop-color="#3060e0"/><stop offset="0.5" stop-color="#80a0d0"/><stop offset="1" stop-color="#40a040"/></linearGradient>
<linearGradient id="face" x1="0" y1="0" x2="1" y2="0"><stop offset="0" stop-color="#fff8c0"/><stop offset="0.6" stop-color="#f4d040"/><stop offset="1" stop-color="#e8b828"/></linearGradient>
<linearGradient id="cring" x1="0" y1="0" x2="1" y2="1"><stop offset="0" stop-color="#2888f0"/><stop offset="1" stop-color="#0848a8"/></linearGradient>
<radialGradient id="cface"><stop offset="0.6" stop-color="#ffffff"/><stop offset="1" stop-color="#d8e0ec"/></radialGradient>
<linearGradient id="tg" x1="0" y1="0" x2="1" y2="1"><stop offset="0" stop-color="#48b414"/><stop offset="1" stop-color="#228800"/></linearGradient>
<linearGradient id="tb" x1="0" y1="1" x2="1" y2="0"><stop offset="0" stop-color="#3c6ce4"/><stop offset="1" stop-color="#0834b4"/></linearGradient>
<radialGradient id="lens"><stop offset="0" stop-color="#f0fcff"/><stop offset="1" stop-color="#b8e4f8"/></radialGradient>
</defs>
<g stroke="#000" stroke-width="1.1" fill="none" stroke-linecap="butt">
<path d="M0 7.5H3.4 M0 10.5H3.6 M1.5 10.5V16.2 M0.4 12.6L-1 15 M2.4 12.8L3.6 14.8 M1 5.2L1.8 7 M8.6 5.4L5 6.9 M5 6.6V12L3.6 16.2 M5 9.5H9 M7.5 9.5V16.4"/>
<path d="M10.2 5.2L11.7 6.7 M9.6 9.5H12V15.4L13.8 13.3 M13.5 6.5H21 M17.5 6.5V15.8L15.4 15.3"/>
<path d="M24 5L25.2 6.9 M30.7 5L29.5 6.9 M23.5 7.5H31V11.5H23.5Z M23.5 9.5H31 M21.3 13.5H33 M27.5 7.5V16.6"/>
</g>
<path d="M51.5 4.9 L60.2 11 L61 13.3 L53.2 19.9 L45.1 14.7 L45.7 12.9 Z" fill="#c88c14" stroke="#a86c10" stroke-width="0.8" stroke-linejoin="round"/>
<path d="M59.8 11.4 L61 13.3 L53.2 19.7 L52.7 16.9 Z" fill="#f4e0a0"/>
<path d="M59.9 12 L52.8 17.6 M60.4 12.8 L53 18.6" stroke="#b07818" stroke-width="0.5" fill="none"/>
<path d="M45.9 13 L52.7 16.9 L53.2 19.6 L45.3 14.6 Z" fill="#e0a418"/>
<path d="M45.8 13.6 L52.9 17.8" stroke="#f8dc70" stroke-width="0.8" fill="none"/>
<path d="M51.5 5.3 L59.8 11.3 L52.7 16.8 L45.9 12.9 Z" fill="url(#gold)"/>
<path d="M75.3 4.6 L82 4 L86 5.2 L86 13 L77.5 13.5 L75.3 12 Z" fill="url(#blu)"/>
<path d="M77.6 6.2 L86 5.4 M77.6 6.2 V13 M75.3 4.6 L77.6 6.2" stroke="#c8ecff" stroke-width="0.7" fill="none"/>
<rect x="79.5" y="8" width="5" height="1.2" fill="#e8f6ff"/>
<path d="M76 19.4 a2.7 2.7 0 0 1 -0.4 -5.3 a3.2 3.2 0 0 1 5.6 -1.2 a2.8 2.8 0 0 1 4.2 1.1 a2.8 2.8 0 0 1 0.6 5.4 Z" fill="url(#cld)" stroke="#5874a8" stroke-width="1"/>
<circle cx="108.9" cy="11.9" r="7.3" fill="none" stroke="url(#sig)" stroke-width="1.1" opacity="0.75"/>
<circle cx="108.9" cy="11.9" r="4.6" fill="none" stroke="url(#sig)" stroke-width="1.1" opacity="0.85"/>
<path d="M108.9 11.9 L108.9 19.4 A7.5 7.5 0 0 0 116.3 12 A7.5 7.5 0 0 0 112 5.2 Z" fill="#60b060" opacity="0.35"/>
<circle cx="108.9" cy="11.4" r="1.7" fill="#2858d0"/>
<rect x="108.6" y="12" width="1.3" height="7.6" fill="#20a820"/>
<path d="M129.4 10.6 L143.6 10.6 L137.6 19.6 Z" fill="url(#face)" stroke="#c89010" stroke-width="0.8"/>
<ellipse cx="136.2" cy="8.9" rx="8" ry="2.7" fill="url(#hat)" stroke="#1878b0" stroke-width="0.7" transform="rotate(-4 136.2 8.9)"/>
<path d="M132.6 8.2 C132.4 3.4 140.2 3 140.2 7.6 C138 9 134.6 9.2 132.6 8.2 Z" fill="url(#hat)" stroke="#1878b0" stroke-width="0.6"/>
<circle cx="140.6" cy="15.5" r="4.2" fill="#e02810"/>
<rect x="139.2" y="14.1" width="2.9" height="2.9" fill="#fff"/>
<g stroke="#000" stroke-width="1.1" fill="none">
<path d="M156.4 5L155.4 7.4 M151.5 7.5H159.5V15.5H151.5Z M151.5 10.2H159.5 M151.5 12.8H159.5"/>
<path d="M162 6.5H166.4 M161.2 9.5H167 M164.2 9.5L162 14.4L165.8 13.8 M165 12L166.7 15 M167.2 8.5H172V15.2L170.4 15.7 M169.5 5.2V9.5Q169.4 13.4 166.8 16"/>
<path d="M179 4.8L179.7 6.6 M173.6 7.5H184.8 M176.8 8.8L175 11 M181.4 8.8L183.4 11 M181.8 10.8Q179 14.6 173.6 16 M176.2 10.8Q179 14.4 184.8 16"/>
<path d="M187.5 5.5H194.5V10H187.5Z M187.5 7.7H194.5 M187.8 10.4L185.6 13.2 M187.2 11.5H195.5Q195.5 15.4 193.6 15.8 M190.4 11.5L187.2 15.8 M193 11.5L190 15.8"/>
</g>
<rect x="204" y="0" width="1" height="24" fill="#a0a0a0"/>
<rect x="205" y="0" width="1" height="24" fill="#fff"/>
<rect x="208" y="2" width="3" height="1" fill="#a0a0a0"/>
<rect x="208" y="4" width="3" height="1" fill="#a0a0a0"/>
<rect x="208" y="6" width="3" height="1" fill="#a0a0a0"/>
<rect x="208" y="8" width="3" height="1" fill="#a0a0a0"/>
<rect x="208" y="10" width="3" height="1" fill="#a0a0a0"/>
<rect x="208" y="12" width="3" height="1" fill="#a0a0a0"/>
<rect x="208" y="14" width="3" height="1" fill="#a0a0a0"/>
<rect x="208" y="16" width="3" height="1" fill="#a0a0a0"/>
<rect x="208" y="18" width="3" height="1" fill="#a0a0a0"/>
<rect x="208" y="20" width="3" height="1" fill="#a0a0a0"/>
<rect x="222" y="6" width="1" height="14" fill="#505050"/>
<rect x="220" y="17" width="14" height="1" fill="#505050"/>
<path d="M220.7 8 L222.5 5.4 L224.3 8 Z M231.8 15.7 L234.2 17.5 L231.8 19.3 Z" fill="#505050"/>
<path d="M228.5 7V16 M228.5 8.5H231.5 M226 14.5H228.5" stroke="#0a8a0a" stroke-width="1.2" fill="none"/>
<rect x="242" y="0" width="25" height="23" fill="url(#dith)"/>
<rect x="242" y="0" width="25" height="1" fill="#a0a0a0"/>
<rect x="242" y="0" width="1" height="22" fill="#a0a0a0"/>
<rect x="266" y="1" width="1" height="22" fill="#fff"/>
<rect x="242" y="22" width="25" height="1" fill="#fff"/>
<rect x="250" y="6" width="1" height="14" fill="#505050"/>
<rect x="248" y="17" width="14" height="1" fill="#505050"/>
<path d="M248.7 8 L250.5 5.4 L252.3 8 Z M259.8 15.7 L262.2 17.5 L259.8 19.3 Z" fill="#505050"/>
<rect x="256" y="4" width="1" height="12" fill="#0a8a0a"/>
<rect x="254" y="6" width="5" height="8" fill="#0a8a0a"/>
<rect x="255" y="7" width="3" height="6" fill="url(#grn)"/>
<rect x="278" y="6" width="1" height="14" fill="#505050"/>
<rect x="276" y="17" width="14" height="1" fill="#505050"/>
<path d="M276.7 8 L278.5 5.4 L280.3 8 Z M287.8 15.7 L290.2 17.5 L287.8 19.3 Z" fill="#505050"/>
<path d="M277 14.6 C279 13.6 281 9.2 283 9.2 C285 9.2 286.5 12.4 288.6 12.8" stroke="#1a9a1a" stroke-width="1.2" fill="none"/>
<rect x="299" y="1" width="1" height="21" fill="#a0a0a0"/>
<path d="M318.3 14.2 L323.3 19.2" stroke="#a87810" stroke-width="3.4" stroke-linecap="butt"/>
<path d="M318.3 14.2 L323.1 19" stroke="#f0cc30" stroke-width="1.9"/>
<circle cx="314.1" cy="9.9" r="5.6" fill="url(#lens)" stroke="#3a80d0" stroke-width="1.3"/>
<path d="M311.1 9.9H317.1" stroke="#4890b8" stroke-width="1.8"/>
<path d="M314.1 6.9V12.9" stroke="#4890b8" stroke-width="1.8"/>
<path d="M346.3 14.2 L351.3 19.2" stroke="#a87810" stroke-width="3.4" stroke-linecap="butt"/>
<path d="M346.3 14.2 L351.1 19" stroke="#f0cc30" stroke-width="1.9"/>
<circle cx="342.1" cy="9.9" r="5.6" fill="url(#lens)" stroke="#3a80d0" stroke-width="1.3"/>
<path d="M339.1 9.9H345.1" stroke="#4890b8" stroke-width="1.8"/>
<rect x="364" y="4" width="8" height="8" fill="url(#tg)" rx="0.8"/>
<rect x="365.1" y="7" width="5.8" height="4" fill="#fff"/>
<rect x="366.3" y="10.2" width="3.4" height="0.8" fill="url(#tg)"/>
<rect x="366" y="8.1" width="4" height="0.9" fill="url(#tg)" opacity="0.5"/>
<rect x="365.1" y="5" width="1" height="0.9" fill="#fff"/>
<rect x="372" y="4" width="8" height="8" fill="url(#tb)" rx="0.8"/>
<rect x="373.1" y="7" width="5.8" height="4" fill="#fff"/>
<rect x="374.3" y="10.2" width="3.4" height="0.8" fill="url(#tb)"/>
<rect x="374" y="8.1" width="4" height="0.9" fill="url(#tb)" opacity="0.5"/>
<rect x="373.1" y="5" width="1" height="0.9" fill="#fff"/>
<rect x="364" y="12" width="8" height="8" fill="url(#tb)" rx="0.8"/>
<rect x="365.1" y="15" width="5.8" height="4" fill="#fff"/>
<rect x="366.3" y="18.2" width="3.4" height="0.8" fill="url(#tb)"/>
<rect x="366" y="16.1" width="4" height="0.9" fill="url(#tb)" opacity="0.5"/>
<rect x="365.1" y="13" width="1" height="0.9" fill="#fff"/>
<rect x="372" y="12" width="8" height="8" fill="url(#tg)" rx="0.8"/>
<rect x="373.1" y="15" width="5.8" height="4" fill="#fff"/>
<rect x="374.3" y="18.2" width="3.4" height="0.8" fill="url(#tg)"/>
<rect x="374" y="16.1" width="4" height="0.9" fill="url(#tg)" opacity="0.5"/>
<rect x="373.1" y="13" width="1" height="0.9" fill="#fff"/>
<rect x="389" y="1" width="1" height="21" fill="#a0a0a0"/>
<rect x="394" y="0" width="25" height="23" fill="url(#dith)"/>
<rect x="394" y="0" width="25" height="1" fill="#a0a0a0"/>
<rect x="394" y="0" width="1" height="22" fill="#a0a0a0"/>
<rect x="418" y="1" width="1" height="22" fill="#fff"/>
<rect x="394" y="22" width="25" height="1" fill="#fff"/>
<rect x="402" y="6" width="1" height="14" fill="#505050"/>
<rect x="400" y="17" width="14" height="1" fill="#505050"/>
<path d="M400.7 8 L402.5 5.4 L404.3 8 Z M411.8 15.7 L414.2 17.5 L411.8 19.3 Z" fill="#505050"/>
<path d="M407.3 8.6V14.4L410.5 11.5Z" fill="#70e870" stroke="#10a010" stroke-width="1"/>
<rect x="422" y="0" width="25" height="23" fill="url(#dith)"/>
<rect x="422" y="0" width="25" height="1" fill="#a0a0a0"/>
<rect x="422" y="0" width="1" height="22" fill="#a0a0a0"/>
<rect x="446" y="1" width="1" height="22" fill="#fff"/>
<rect x="422" y="22" width="25" height="1" fill="#fff"/>
<rect x="430" y="6" width="1" height="14" fill="#505050"/>
<rect x="428" y="17" width="14" height="1" fill="#505050"/>
<path d="M428.7 8 L430.5 5.4 L432.3 8 Z M439.8 15.7 L442.2 17.5 L439.8 19.3 Z" fill="#505050"/>
<rect x="436" y="6" width="1" height="10" fill="#1070b0"/>
<path d="M437.5 11.5L440.2 9.2V10.8H442.4V12.2H440.2V13.8Z" fill="#e05000"/>
<rect x="451" y="1" width="1" height="21" fill="#a0a0a0"/>
<path d="M461.6 4.6H469L472.2 7.8V17.3H461.6Z" fill="#fff" stroke="#808080" stroke-width="1" stroke-linejoin="round"/>
<path d="M469 4.6V7.8H472.2" fill="#e8e8e8" stroke="#808080" stroke-width="0.8"/>
<path d="M466.6 6.6Q464.6 6.8 464.4 9V14.6 M463.4 10.4H466.4" stroke="#403820" stroke-width="0.9" fill="none"/>
<path d="M469 10H473V14H477V18H473V22H469V18H465V14H469Z" fill="#008a00"/>
<path d="M470 11H472V15H476V17H472V21H470V17H466V15H470Z" fill="url(#plus)"/>
<rect x="483.0" y="11" width="5" height="1" fill="#000"/>
<rect x="484.0" y="12" width="3" height="1" fill="#000"/>
<rect x="485.0" y="13" width="1" height="1" fill="#000"/>
<circle cx="507.1" cy="11.9" r="6.7" fill="url(#cface)" stroke="url(#cring)" stroke-width="2.3"/>
<path d="M506.2 8L506.9 11.8L510 12" stroke="#101010" stroke-width="1.3" fill="none"/>
<path d="M507.1 6.6V7.4 M507.1 16.4V17.2 M501.8 11.9H502.6 M511.6 11.9H512.4" stroke="#707070" stroke-width="0.8"/>
<rect x="522.0" y="11" width="5" height="1" fill="#000"/>
<rect x="523.0" y="12" width="3" height="1" fill="#000"/>
<rect x="524.0" y="13" width="1" height="1" fill="#000"/>
<rect x="538.5" y="5.5" width="15.5" height="13.5" fill="#fff" stroke="#3a74c4" stroke-width="1"/>
<rect x="538.5" y="5.5" width="15.5" height="2.4" fill="#4a90e0"/>
<rect x="538.5" y="13" width="15.5" height="1" fill="#3a74c4"/>
<path d="M540.5 11.6H542L543.6 10.4H545L546.4 9.2H547.8L549 10.4H550.4L551.8 9.4" stroke="#a01800" stroke-width="1.4" fill="none"/>
<path d="M541.5 16.8H543L544.4 15.6H545.8L547 16.6L549 14.4L551 16.6" stroke="#0c8c0c" stroke-width="1.4" fill="none"/>
<rect x="561.0" y="11" width="5" height="1" fill="#000"/>
<rect x="562.0" y="12" width="3" height="1" fill="#000"/>
<rect x="563.0" y="13" width="1" height="1" fill="#000"/>
<rect x="572" y="0" width="1" height="24" fill="#a0a0a0"/>
<rect x="573" y="0" width="1" height="24" fill="#fff"/>
<rect x="576" y="2" width="3" height="1" fill="#a0a0a0"/>
<rect x="576" y="4" width="3" height="1" fill="#a0a0a0"/>
<rect x="576" y="6" width="3" height="1" fill="#a0a0a0"/>
<rect x="576" y="8" width="3" height="1" fill="#a0a0a0"/>
<rect x="576" y="10" width="3" height="1" fill="#a0a0a0"/>
<rect x="576" y="12" width="3" height="1" fill="#a0a0a0"/>
<rect x="576" y="14" width="3" height="1" fill="#a0a0a0"/>
<rect x="576" y="16" width="3" height="1" fill="#a0a0a0"/>
<rect x="576" y="18" width="3" height="1" fill="#a0a0a0"/>
<rect x="576" y="20" width="3" height="1" fill="#a0a0a0"/>
<rect x="582" y="0" width="26" height="23" fill="url(#dith)"/>
<rect x="582" y="0" width="26" height="1" fill="#a0a0a0"/>
<rect x="582" y="0" width="1" height="22" fill="#a0a0a0"/>
<rect x="607" y="1" width="1" height="22" fill="#fff"/>
<rect x="582" y="22" width="26" height="1" fill="#fff"/>
<path d="M590.1 4.9V16L593.1 13.6L595.2 19.1L596.9 18.5L594.9 13L598.3 12.6Z" fill="#505050"/>
<rect x="622" y="5" width="1" height="6" fill="#505050"/>
<rect x="622" y="14" width="1" height="6" fill="#505050"/>
<rect x="615" y="12" width="6" height="1" fill="#505050"/>
<rect x="624" y="12" width="6" height="1" fill="#505050"/>
<rect x="622" y="12" width="1" height="1" fill="#909060"/>
<rect x="639" y="1" width="1" height="21" fill="#a0a0a0"/>
<rect x="656" y="6" width="1" height="13" fill="#505050"/>
<rect x="679" y="12" width="12" height="1" fill="#505050"/>
<path d="M706.9 18.9L719 6.6" stroke="#505050" stroke-width="1.1"/>
<path d="M732.4 13.5L740.9 5.9 M737.8 18.9L747.4 10.4" stroke="#505050" stroke-width="0.9" fill="none"/>
<path d="M734.7 18.6L735.5 11.6L738.4 15.4L741.4 8.6L743.4 12.8L744.5 4.3L745.5 10.6" stroke="#404040" stroke-width="1" fill="none" stroke-linejoin="miter"/>
<path d="M747.9 16.6H744.7V20.4H747.9 M744.7 18.5H747.3" stroke="#303030" stroke-width="1.2" fill="none"/>
<path d="M762 5.5H775.4" stroke="#505050" stroke-width="1" stroke-dasharray="1,1"/>
<path d="M762 8.5H775.4" stroke="#505050" stroke-width="1" stroke-dasharray="1,1"/>
<path d="M762 12.5H775.4" stroke="#505050" stroke-width="1" stroke-dasharray="1,1"/>
<path d="M762 16.5H771" stroke="#505050" stroke-width="1" stroke-dasharray="1,1"/>
<path d="M775.9 16.6H772.7V20.9 M772.7 18.6H775.3" stroke="#303030" stroke-width="1.2" fill="none"/>
<path d="M793.3 16.8L796.6 8.6L799.9 16.8 M794.6 14H798.6" stroke="#505050" stroke-width="1.4" fill="none" stroke-linejoin="bevel"/>
<rect x="819.4" y="6.5" width="11.2" height="12" fill="none" stroke="#505050" stroke-width="1" stroke-dasharray="1,1"/>
<path d="M821 9.9H829.2 M825.1 9.9V16.6" stroke="#505050" stroke-width="1.5" fill="none"/>
<path d="M849.5 6L853.2 10H845.8Z M856.6 19L860.2 15H853Z" fill="#505050"/>
<path d="M848 13.2L850.6 15.6L855 10.2" stroke="#505050" stroke-width="1.3" fill="none"/>
<rect x="867.0" y="11" width="5" height="1" fill="#000"/>
<rect x="868.0" y="12" width="3" height="1" fill="#000"/>
<rect x="869.0" y="13" width="1" height="1" fill="#000"/>
<rect x="878" y="0" width="1" height="24" fill="#a0a0a0"/>
<rect x="879" y="0" width="1" height="24" fill="#fff"/>
<rect x="882" y="2" width="3" height="1" fill="#a0a0a0"/>
<rect x="882" y="4" width="3" height="1" fill="#a0a0a0"/>
<rect x="882" y="6" width="3" height="1" fill="#a0a0a0"/>
<rect x="882" y="8" width="3" height="1" fill="#a0a0a0"/>
<rect x="882" y="10" width="3" height="1" fill="#a0a0a0"/>
<rect x="882" y="12" width="3" height="1" fill="#a0a0a0"/>
<rect x="882" y="14" width="3" height="1" fill="#a0a0a0"/>
<rect x="882" y="16" width="3" height="1" fill="#a0a0a0"/>
<rect x="882" y="18" width="3" height="1" fill="#a0a0a0"/>
<rect x="882" y="20" width="3" height="1" fill="#a0a0a0"/>
<rect x="1028" y="0" width="26" height="23" fill="url(#dith)"/>
<rect x="1028" y="0" width="26" height="1" fill="#a0a0a0"/>
<rect x="1028" y="0" width="1" height="22" fill="#a0a0a0"/>
<rect x="1053" y="1" width="1" height="22" fill="#fff"/>
<rect x="1028" y="22" width="26" height="1" fill="#fff"/>
<text x="893.7" y="15.8" font-size="10" fill="#383838" style="will-change:transform" textLength="12.3" lengthAdjust="spacingAndGlyphs">M1</text>
<text x="921.6" y="15.8" font-size="10" fill="#383838" style="will-change:transform" textLength="12.4" lengthAdjust="spacingAndGlyphs">M5</text>
<text x="947.7" y="15.8" font-size="10" fill="#383838" style="will-change:transform" textLength="17.5" lengthAdjust="spacingAndGlyphs">M15</text>
<text x="975.5" y="15.8" font-size="10" fill="#383838" style="will-change:transform" textLength="17.7" lengthAdjust="spacingAndGlyphs">M30</text>
<text x="1006.6" y="15.8" font-size="10" fill="#383838" style="will-change:transform" textLength="11.4" lengthAdjust="spacingAndGlyphs">H1</text>
<text x="1033.6" y="15.8" font-size="10" fill="#383838" style="will-change:transform" textLength="12.4" lengthAdjust="spacingAndGlyphs">H4</text>
<text x="1062.5" y="15.8" font-size="10" fill="#383838" style="will-change:transform" textLength="11.5" lengthAdjust="spacingAndGlyphs">D1</text>
<text x="1090" y="15.8" font-size="10" fill="#383838" style="will-change:transform" textLength="14.0" lengthAdjust="spacingAndGlyphs">W1</text>
<text x="1116.7" y="15.8" font-size="10" fill="#383838" style="will-change:transform" textLength="14.6" lengthAdjust="spacingAndGlyphs">MN</text>
<rect x="1139" y="0" width="1" height="24" fill="#a0a0a0"/>
<rect x="1140" y="0" width="1" height="24" fill="#fff"/>
<path d="M1606 13L1602.4 16.8" stroke="#2858d0" stroke-width="2.5" stroke-linecap="round"/>
<circle cx="1609.6" cy="9.4" r="3.9" fill="#f4f4ff" stroke="#2858d0" stroke-width="1.3"/>
<path d="M1631.6 9.6 a5.6 4.8 0 1 1 -2.4 9.2 l-0.6 2 l-0.6 -2.6 a5.6 4.8 0 0 1 3.6 -8.6 Z" fill="#e2e2ee" stroke="#a0a0a0" stroke-width="0.9"/>
<circle cx="1640.5" cy="9.4" r="8.2" fill="url(#badge)"/>
<text x="1640.3" y="13.9" font-size="12" font-weight="bold" fill="#fff" text-anchor="middle">1</text>
</svg>
</body></html>
